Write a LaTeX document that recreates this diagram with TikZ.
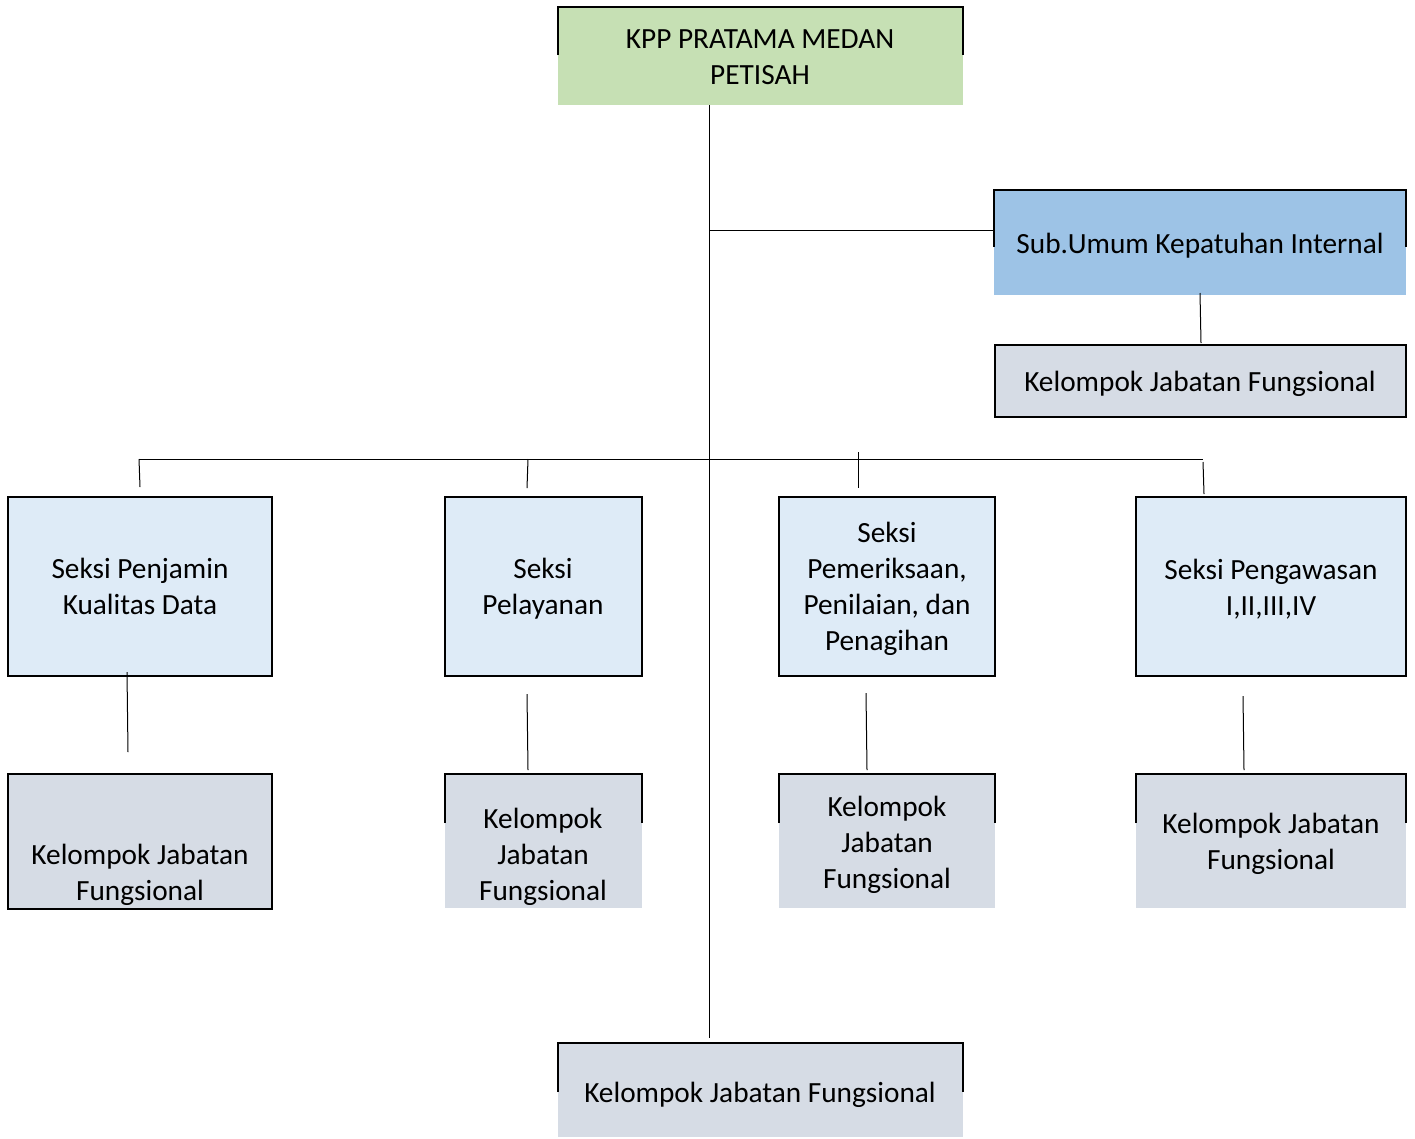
\documentclass[tikz,border=0pt]{standalone}
\usepackage{fontspec}
\setmainfont{Carlito}
\usetikzlibrary{calc}
\definecolor{kgreen}{HTML}{C6E0B4}
\definecolor{kblue}{HTML}{9DC3E6}
\definecolor{klight}{HTML}{DEEBF7}
\definecolor{kgray}{HTML}{D6DCE5}
\begin{document}
\begin{tikzpicture}[x=1pt,y=-1pt,
  box/.style={rectangle, inner sep=0pt, outer sep=0pt},
  fullbox/.style={box, draw=black, line width=2pt},
  bd/.style={draw=black, line width=2pt},
  conn/.style={draw=black, line width=1pt},
  txt/.style={inner sep=0pt, align=center, font=\fontsize{29.3}{36}\selectfont, text=black}]
\useasboundingbox[fill=white] (0,0) rectangle (1415,1138);

% top box
\node[box, fill=kgreen, minimum width=405pt, minimum height=98pt] (kpp) at (760.5,56) {};
\draw[bd] ($(kpp.north west)+(0,48)$) -- (kpp.north west) -- (kpp.north east) -- ($(kpp.north east)+(0,48)$);
\node[txt] (kppt) at (760,57) {KPP PRATAMA MEDAN\\PETISAH};

% Sub.Umum
\node[box, fill=kblue, minimum width=412pt, minimum height=105pt] (sub) at (1200,242.5) {};
\draw[bd] ($(sub.north west)+(0,57)$) -- (sub.north west) -- (sub.north east) -- ($(sub.north east)+(0,57)$);
\node[txt] (subt) at (1200,246) {Sub.Umum Kepatuhan Internal};

\node[fullbox, fill=kgray, minimum width=411pt, minimum height=72pt] (kr) at (1200.5,381) {};
\node[txt] (krt) at (1200,384) {Kelompok Jabatan Fungsional};

% row 2
\node[fullbox, fill=klight, minimum width=264pt, minimum height=179pt] (s1) at (140,586.5) {};
\node[fullbox, fill=klight, minimum width=197pt, minimum height=179pt] (s2) at (543.5,586.5) {};
\node[fullbox, fill=klight, minimum width=216pt, minimum height=179pt] (s3) at (887,586.5) {};
\node[fullbox, fill=klight, minimum width=270pt, minimum height=179pt] (s4) at (1271,586.5) {};
\node[txt] (s1t) at (140,586) {Seksi Penjamin\\Kualitas Data};
\node[txt] (s2t) at (543,589) {Seksi\\Pelayanan};
\node[txt] (s3t) at (887,589) {Seksi\\Pemeriksaan,\\Penilaian, dan\\Penagihan};
\node[txt] (s4t) at (1271,589) {Seksi Pengawasan\\I,II,III,IV};

% row 3
\node[fullbox, fill=kgray, minimum width=264pt, minimum height=135pt] (k1) at (140,841.5) {};
\node[txt] (k1t) at (140,875) {Kelompok Jabatan\\Fungsional};

\node[box, fill=kgray, minimum width=197pt, minimum height=134pt] (k2) at (543.5,841) {};
\draw[bd] ($(k2.north west)+(0,49)$) -- (k2.north west) -- (k2.north east) -- ($(k2.north east)+(0,49)$);
\node[txt] (k2t) at (543,857) {Kelompok\\Jabatan\\Fungsional};

\node[box, fill=kgray, minimum width=216pt, minimum height=134pt] (k3) at (887,841) {};
\draw[bd] ($(k3.north west)+(0,49)$) -- (k3.north west) -- (k3.north east) -- ($(k3.north east)+(0,49)$);
\node[txt] (k3t) at (887,845) {Kelompok\\Jabatan\\Fungsional};

\node[box, fill=kgray, minimum width=270pt, minimum height=134pt] (k4) at (1271,841) {};
\draw[bd] ($(k4.north west)+(0,49)$) -- (k4.north west) -- (k4.north east) -- ($(k4.north east)+(0,49)$);
\node[txt] (k4t) at (1271,844) {Kelompok Jabatan\\Fungsional};

% bottom
\node[box, fill=kgray, minimum width=405pt, minimum height=94pt] (bot) at (760.5,1090) {};
\draw[bd] ($(bot.north west)+(0,49)$) -- (bot.north west) -- (bot.north east) -- ($(bot.north east)+(0,49)$);
\node[txt] (bott) at (760,1095) {Kelompok Jabatan Fungsional};

% connectors
\coordinate (tx) at (709,0);
\coordinate (trunkend) at (709,1038);
\coordinate (jsub) at (709,230);
\draw[conn] (kpp.south -| tx) -- (trunkend);
\draw[conn] (jsub) -- (jsub -| sub.west);
\coordinate (sa) at (1200,293);
\coordinate (sb) at (1201,343);
\draw[conn] (sa) -- (sb);

\coordinate (busl) at (139,459);
\coordinate (busr) at (1203,459);
\draw[conn] (busl) -- (busr);
\coordinate (d1) at (140,487);
\coordinate (d2a) at (528,459);
\coordinate (d2) at (527,488);
\coordinate (d3a) at (858,452);
\coordinate (d3) at (858,488);
\coordinate (d4a) at (1203,462);
\coordinate (d4) at (1204,494);
\draw[conn] (busl) -- (d1);
\draw[conn] (d2a) -- (d2);
\draw[conn] (d3a) -- (d3);
\draw[conn] (d4a) -- (d4);

\coordinate (e1a) at (127,672);
\coordinate (e1) at (128,752);
\coordinate (e2a) at (527,694);
\coordinate (e2) at (528,770);
\coordinate (e3a) at (866,693);
\coordinate (e3) at (867,770);
\coordinate (e4a) at (1243,696);
\coordinate (e4) at (1244,770);
\draw[conn] (e1a) -- (e1);
\draw[conn] (e2a) -- (e2);
\draw[conn] (e3a) -- (e3);
\draw[conn] (e4a) -- (e4);
\end{tikzpicture}
\end{document}
